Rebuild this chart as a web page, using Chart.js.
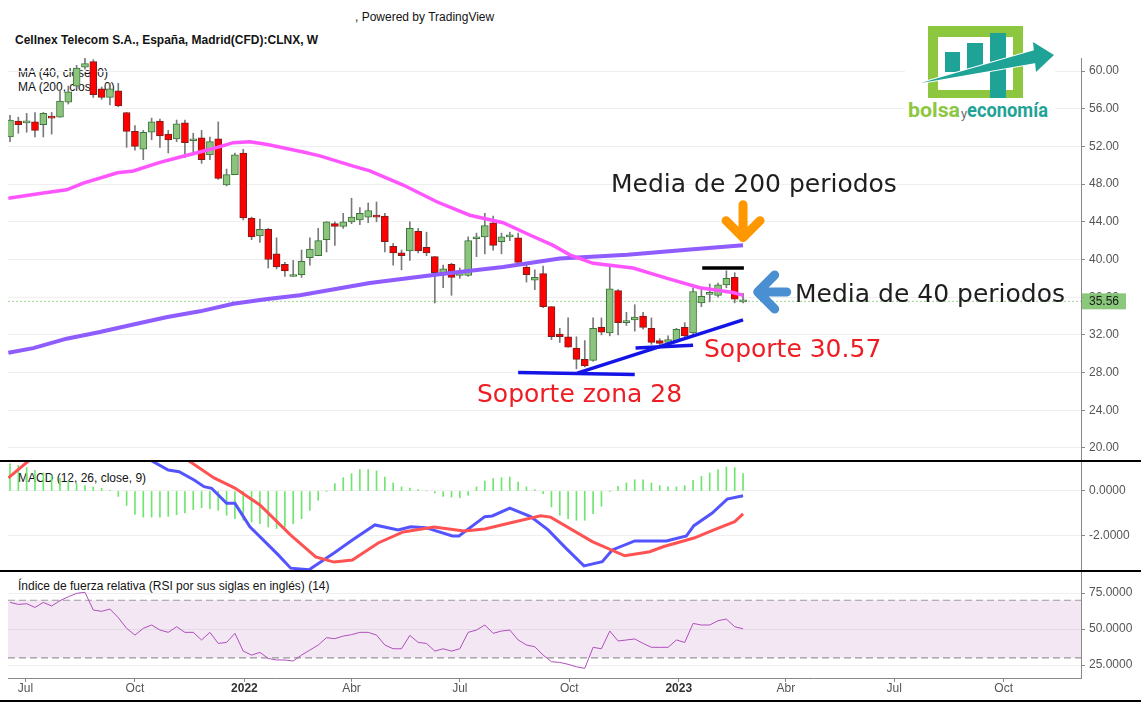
<!DOCTYPE html>
<html lang="es">
<head>
<meta charset="utf-8">
<title>Cellnex Telecom CLNX semanal</title>
<script src="https://cdn.jsdelivr.net/npm/chart.js@4/dist/chart.umd.min.js"></script>
<style>
body { margin: 0; background: #fff; }
#wrap { position: relative; width: 1147px; height: 706px; overflow: hidden; font-family: "Liberation Sans", Arial, sans-serif; font-size: 12px; color: #131313; }
#wrap canvas { position: absolute; left: 0; }
.lbl { position: absolute; white-space: nowrap; line-height: 14px; }
.sep { position: absolute; left: 0; width: 1141px; height: 2px; background: #000; }
#logo { position: absolute; left: 900px; top: 18px; }
</style>
</head>
<body>
<div id="wrap">
  <div class="lbl" style="left:355px;top:10px">, Powered by TradingView</div>
  <div class="lbl" style="left:15px;top:33px;font-weight:bold">Cellnex Telecom S.A., España, Madrid(CFD):CLNX, W</div>
  <div class="lbl" style="left:18px;top:66px">MA (40, close, 0)</div>
  <div class="lbl" style="left:18px;top:80px">MA (200, close, 0)</div>
  <div class="lbl" style="left:18px;top:471px">MACD (12, 26, close, 9)</div>
  <div class="lbl" style="left:18px;top:579px">Índice de fuerza relativa (RSI por sus siglas en inglés) (14)</div>

  <canvas id="price" width="1147" height="461" style="top:0"></canvas>
  <canvas id="macd" width="1147" height="110" style="top:461px"></canvas>
  <canvas id="rsi" width="1147" height="135" style="top:571px"></canvas>

  <div class="sep" style="top:460px"></div>
  <div class="sep" style="top:570px"></div>
  <div class="sep" style="top:700px"></div>

  <svg id="logo" width="160" height="106" viewBox="900 18 160 106">
    <rect x="905" y="20" width="150" height="102" fill="#fff"/>
    <path d="M928 26 H1023 V98 H928 Z M938 37 V90 H1013 V37 Z" fill="#8dc63f" fill-rule="evenodd"/>
    <rect x="945" y="52" width="15" height="20" fill="#1fa397"/>
    <rect x="967" y="43" width="16" height="29" fill="#1fa397"/>
    <rect x="990" y="33" width="16" height="65" fill="#1fa397"/>
    <path d="M921 83 L1035 50 L1036 63 Z" fill="#1fa397" stroke="#fff" stroke-width="2"/>
    <path d="M921 83 L1035 50 L1036 63 Z" fill="#1fa397"/>
    <polygon points="1033,42 1054,55 1036,72" fill="#1fa397"/>
    <text x="908" y="117" font-family="Roboto" font-weight="bold" font-size="20" fill="#8dc63f" textLength="52" lengthAdjust="spacingAndGlyphs">bolsa</text>
    <text x="961" y="118" font-family="Roboto" font-size="13" fill="#6d6d6d">y</text>
    <text x="967" y="117" font-family="Roboto" font-weight="bold" font-size="20" fill="#1fa397" textLength="81" lengthAdjust="spacingAndGlyphs">economía</text>
  </svg>
</div>

<script>
Chart.defaults.font.family = '"Liberation Sans", Arial, sans-serif';
Chart.defaults.font.size = 12;
Chart.defaults.color = '#555';

// weekly bars, first bar = week of 18 Jun 2021
const firstWeek = Date.UTC(2021, 5, 18);
const WEEK = 7 * 24 * 3600 * 1000;

const opens = [53.0,54.7,54.5,54.6,54.3,55.2,55.1,56.7,58.4,60.4, 61.0,58.1,57.2,57.9,55.6,53.6,51.7,53.5,54.7,53.3,
  52.8,54.5,52.6,52.9,51.1,52.8,47.9,49.0,51.3,44.4, 42.5,43.2,40.6,39.5,38.2,38.4,40.2,40.4,42.1,43.8,
  43.5,44.0,44.2,44.5,44.6,44.6,41.4,40.7,40.9,43.0, 41.3,40.3,38.6,39.5,38.3,38.3,42.2,42.4,43.9,41.9,
  42.4,42.3,39.2,37.8,38.5,35.0,32.1,31.8,30.6,29.4, 29.3,32.8,32.2,36.7,33.3,33.6,34.0,32.7,31.4,31.2,
  31.4,32.8,32.2,35.4,36.3,36.2,37.3,38.1,35.5];
const highs = [55.3,55.1,55.5,55.6,55.6,55.6,58.0,58.4,60.6,61.4, 61.2,58.3,58.7,58.7,55.6,54.2,53.7,55.0,54.9,53.7,
  54.8,54.8,53.4,53.7,53.0,54.6,49.6,51.3,51.7,44.5, 44.3,43.3,42.3,39.7,39.9,41.0,42.3,43.3,44.0,44.0,
  44.9,46.5,45.5,46.0,46.1,44.9,41.7,41.0,44.0,43.3, 42.9,40.3,39.4,39.6,39.1,42.4,42.8,44.9,44.6,42.8,
  42.9,42.8,39.7,38.9,39.3,35.0,32.7,33.8,31.8,31.4, 33.8,33.8,39.4,36.8,34.4,35.2,34.4,33.8,31.6,31.9,
  32.7,33.3,37.0,36.8,37.4,37.5,38.8,38.6,36.4];
const lows = [52.5,53.4,53.5,53.0,53.0,53.3,55.1,56.5,58.2,60.2, 57.2,57.0,56.4,56.2,51.9,51.6,50.6,52.7,51.9,51.3,
  52.5,50.8,51.1,50.2,50.6,48.5,47.8,49.0,44.2,42.1, 41.8,39.1,39.0,38.2,38.2,38.1,39.4,40.4,40.8,41.5,
  43.3,43.8,43.7,43.9,44.0,40.8,39.4,38.9,39.9,40.7, 40.4,35.4,37.0,36.2,38.0,38.2,40.3,40.6,41.0,40.6,
  42.0,39.6,37.6,36.8,34.9,31.5,31.2,30.7,28.4,28.6, 29.2,32.0,31.9,32.0,33.0,32.4,32.6,31.0,30.9,31.0,
  31.2,31.7,32.0,35.0,35.5,36.0,37.0,35.4,35.4];
const closes = [54.8,54.3,54.6,53.7,55.5,55.0,56.8,57.8,60.3,60.8, 57.5,57.2,58.1,56.3,53.6,52.0,53.5,54.6,53.1,52.7,
  54.4,52.4,52.7,50.6,52.5,48.6,49.0,51.1,44.4,42.4, 43.2,40.0,39.2,38.8,38.3,39.8,41.1,42.0,44.0,43.5,
  44.0,44.5,44.9,45.2,44.5,41.9,40.7,40.4,43.3,40.9, 40.7,38.6,39.0,38.1,38.7,42.0,42.3,43.6,41.5,42.4,
  42.5,39.7,38.4,38.1,35.0,31.8,31.8,30.7,29.4,28.7, 32.7,32.3,36.9,33.3,33.5,33.9,32.8,31.2,31.1,31.5,
  32.6,31.9,36.6,36.1,36.4,37.3,38.0,35.8,35.56];

// moving averages (week index, price)
const ma40Weeks = [-0.2,3.6,6.8,8.8,12.9,14.8,18.0,20.1,22.8,24.9,26.8,28.8,30.9,35.2,37.2,41.2,43.2,47.2,51.3,55.2,59.2,62.4,65.2,67.2,70.0,74.8,78.9,82.8,86.8,88.0];
const ma40 = [46.5,47.0,47.4,48.1,49.2,49.4,50.3,50.8,51.4,51.9,52.4,52.5,52.2,51.4,51.0,49.9,49.4,47.9,46.1,44.7,43.9,42.6,41.5,40.5,39.6,39.1,38.0,37.0,36.5,36.2];
const ma200Weeks = [-0.2,2.8,6.8,10.8,14.8,18.9,22.8,26.8,30.9,34.8,43.2,51.3,59.2,66.0,74.1,82.0,88.0];
const ma200 = [30.1,30.6,31.6,32.3,33.1,33.9,34.5,35.3,35.8,36.2,37.5,38.4,39.2,40.1,40.5,41.1,41.5];

// MACD
const macdWeeks = [-0.2,4,8,12,15,17.2,19.0,20.3,22.1,23.3,24.2,26.0,27.0,28.8,30.6,32.2,33.7,35.9,38.9,41.1,43.8,46.6,48.1,49.9,53.1,53.9,57.0,57.9,60.0,62.5,64.6,66.7,68.9,71.1,72.3,75.0,78.8,81.2,82.1,84.3,86.1,88.0];
const macd = [1.8,2.2,2.5,2.45,1.8,1.30,0.93,0.86,0.49,0.19,0.12,-0.55,-0.55,-1.59,-2.25,-2.84,-3.43,-3.5,-2.76,-2.18,-1.51,-1.73,-1.59,-1.63,-2.0,-2.0,-1.14,-1.11,-0.76,-1.14,-1.73,-2.53,-3.33,-3.14,-2.62,-2.22,-2.22,-2.0,-1.54,-0.98,-0.36,-0.21];
const signalWeeks = [-0.2,2.2,6,10,13,16,19,21.5,24.5,27.0,30.0,33.7,36.7,38.9,41.1,44.2,47.2,50.9,54.5,57.0,60.0,63.7,64.9,69.9,73.8,76.8,78.4,82.1,84.5,87.0,88.0];
const signal = [0.58,1.33,1.9,2.3,2.45,2.5,2.0,1.33,0.58,0.13,-0.62,-1.96,-2.93,-3.16,-3.07,-2.31,-1.82,-1.6,-1.78,-1.69,-1.42,-1.10,-1.16,-2.25,-2.88,-2.70,-2.48,-2.09,-1.73,-1.36,-1.02];
const hist = [1.21,1.14,1.04,0.92,0.80,0.68,0.56,0.44,0.33,0.24, 0.18,0.12,0.03,-0.24,-0.64,-1.04,-1.16,-1.16,-1.16,-1.13,
  -1.05,-0.98,-0.83,-0.74,-0.79,-0.86,-1.08,-1.23,-1.30,-1.38, -1.45,-1.60,-1.67,-1.60,-1.45,-1.23,-0.86,-0.41,-0.01,0.33,
  0.59,0.77,0.95,0.95,0.89,0.62,0.36,0.18,0.13,0.06, 0,-0.09,-0.24,-0.27,-0.30,-0.19,0.18,0.44,0.55,0.59,
  0.62,0.40,0.18,0.06,-0.12,-0.71,-1.08,-1.23,-1.30,-1.30, -1.01,-0.68,-0.01,0.21,0.36,0.50,0.50,0.36,0.24,0.18,
  0.18,0.24,0.47,0.65,0.80,0.95,1.07,1.04,0.77];

// RSI (14)
const rsi = [68.5,67.1,67.6,65.0,68.5,66.0,69.7,72.4,74.8,75.5, 63.2,62.3,63.9,57.9,50.5,45.8,50.5,52.8,49.3,47.7,
  51.6,47.7,47.7,42.4,47.7,40.0,40.7,47.0,34.7,31.9, 33.8,29.6,28.5,28.5,27.8,31.9,35.4,38.9,44.0,43.3,
  45.1,46.1,47.7,47.7,45.8,38.9,36.3,36.3,45.6,40.7, 40.0,34.7,36.3,34.7,36.3,47.7,49.3,52.8,47.0,48.6,
  49.3,42.4,38.9,37.7,31.9,27.3,26.8,25.5,23.8,22.7, 37.3,36.3,48.6,41.7,42.4,43.1,40.0,37.3,37.3,37.3,
  42.4,40.7,53.9,52.8,52.8,55.8,56.9,51.6,50.2];
const rsiBand = [70, 30];

// time axis labels
const tickMonths = [[2021,6],[2021,9],[2022,0],[2022,3],[2022,6],[2022,9],[2023,0],[2023,3],[2023,6],[2023,9]];
const tickLabels = ['Jul','Oct','2022','Abr','Jul','Oct','2023','Abr','Jul','Oct'];
const tickWeeks = tickMonths.map(m => (Date.UTC(m[0], m[1], 1) - firstWeek) / WEEK);

// drawn annotations (week index, price)
const noteTexts = ['Media de 200 periodos', 'Media de 40 periodos', 'Soporte 30.57', 'Soporte zona 28'];
const noteWeeks = [72.15, 94.24, 83.31, 56.06];
const notePrices = [47.8, 36.15, 30.3, 25.6];
const noteColors = ['#1e1e1e', '#1e1e1e', '#ee1d23', '#ee1d23'];
const supportLines = [
  [[61.0, 28.0], [75.0, 27.8]],
  [[68.1, 27.95], [88.0, 33.6]],
  [[75.1, 30.6], [82.0, 30.9]]
];
const topLine = [[83.1, 39.1], [88.1, 39.1]];
const arrowWeeks = [88.0, 89.4];
const arrowPrices = [42.0, 36.55];
const arrowColors = ['#ff9800', '#4a8fd1'];
const arrowAngles = [0, Math.PI / 2];
const arrowLens = [36, 32];

const xMin = -0.24, xMax = 128.57;
const lastClose = closes[closes.length - 1];

function pts(xs, ys) { return xs.map((x, i) => ({ x: x, y: ys[i] })); }
function weekly(vals) { return vals.map((v, i) => ({ x: i, y: v })); }
function segment(s) { return s.map(p => ({ x: p[0], y: p[1] })); }

function yAxis(min, max, step, digits) {
  return {
    position: 'right', min: min, max: max,
    ticks: { stepSize: step, includeBounds: false, padding: 4, color: '#555', callback: v => v.toFixed(digits) },
    grid: { color: '#efefef', tickLength: 4, tickColor: '#888' },
    border: { color: '#888' },
    afterFit(s) { s.width = 66; s.paddingTop = 0; s.paddingBottom = 0; }
  };
}

function xAxis(show) {
  return {
    type: 'linear', min: xMin, max: xMax, offset: false, display: show,
    grid: { drawOnChartArea: false, offset: false, tickLength: 4, tickColor: '#888' },
    border: { color: '#888' },
    ticks: {
      autoSkip: false, maxRotation: 0, padding: -1,
      callback: (v, i) => tickLabels[i],
      color: c => /^\d{4}$/.test(tickLabels[c.index] || '') ? '#333' : '#555',
      font: c => ({ family: '"Liberation Sans", Arial, sans-serif', size: 12,
        weight: /^\d{4}$/.test(tickLabels[c.index] || '') ? 'bold' : 'normal' })
    },
    afterBuildTicks(s) { s.ticks = tickWeeks.map(v => ({ value: v })); },
    afterFit(s) { if (show) s.height = 28; s.paddingLeft = 0; s.paddingRight = 0; }
  };
}

function baseOptions(padTop) {
  return {
    responsive: false, animation: false, events: [],
    layout: { padding: { top: padTop, left: 8, right: 0, bottom: 0 } },
    plugins: { legend: { display: false }, tooltip: { enabled: false } }
  };
}

const notesPlugin = {
  id: 'notas',
  afterDatasetsDraw(chart) {
    const ctx = chart.ctx, xs = chart.scales.x, ys = chart.scales.y;
    ctx.save();
    ctx.font = '25px "DejaVu Sans"';
    ctx.textBaseline = 'middle';
    ctx.textAlign = 'left';
    noteTexts.forEach((t, i) => {
      ctx.fillStyle = noteColors[i];
      ctx.fillText(t, xs.getPixelForValue(noteWeeks[i]), ys.getPixelForValue(notePrices[i]));
    });
    arrowWeeks.forEach((w, i) => {
      ctx.save();
      ctx.translate(xs.getPixelForValue(w), ys.getPixelForValue(arrowPrices[i]));
      ctx.rotate(arrowAngles[i]);
      ctx.strokeStyle = arrowColors[i];
      ctx.lineWidth = 9;
      ctx.lineCap = 'round';
      ctx.lineJoin = 'round';
      ctx.beginPath();
      ctx.moveTo(0, -arrowLens[i]); ctx.lineTo(0, -4);
      ctx.moveTo(-17, -20); ctx.lineTo(0, -3); ctx.lineTo(17, -20);
      ctx.stroke();
      ctx.restore();
    });
    ctx.restore();
  },
  afterDraw(chart) {
    const ctx = chart.ctx, ys = chart.scales.y, right = chart.chartArea.right;
    const yp = ys.getPixelForValue(lastClose);
    ctx.save();
    ctx.fillStyle = 'rgba(128,196,112,0.92)';
    ctx.fillRect(right + 1, yp - 8, 44, 16);
    ctx.fillStyle = '#1a1a1a';
    ctx.font = '12px "Liberation Sans"';
    ctx.textBaseline = 'middle';
    ctx.fillText(lastClose.toFixed(2), right + 8, yp);
    ctx.restore();
  }
};

const upFill = '#8cc47e', upLine = '#3b763b', downFill = '#ff0000', downLine = '#7a1f1f';
const isUp = i => closes[i] >= opens[i];

new Chart(document.getElementById('price'), {
  type: 'bar',
  data: {
    datasets: [
      ...supportLines.map(s => ({ type: 'line', data: segment(s), borderColor: '#1414e6', borderWidth: 3.5, pointRadius: 0, order: 0 })),
      { type: 'line', data: segment(topLine), borderColor: '#000', borderWidth: 3.5, pointRadius: 0, order: 0 },
      { type: 'line', label: 'MA 40', data: pts(ma40Weeks, ma40), borderColor: '#ff55ff', borderWidth: 3.5, pointRadius: 0, order: 1 },
      { type: 'line', label: 'MA 200', data: pts(ma200Weeks, ma200), borderColor: '#8e5cff', borderWidth: 4, pointRadius: 0, order: 2 },
      { type: 'bar', label: 'cuerpo', data: closes.map((c, i) => ({ x: i, y: [opens[i], c] })),
        backgroundColor: c => isUp(c.dataIndex) ? upFill : downFill,
        borderColor: c => isUp(c.dataIndex) ? upLine : downLine,
        borderWidth: 1, borderSkipped: false, barThickness: 7, minBarLength: 2, grouped: false, order: 3 },
      { type: 'bar', label: 'mecha', data: highs.map((h, i) => ({ x: i, y: [lows[i], h] })),
        backgroundColor: '#7a7a7a', barThickness: 1, grouped: false, order: 4 },
      { type: 'line', label: 'último', data: [{ x: xMin, y: lastClose }, { x: xMax, y: lastClose }],
        borderColor: '#9fd293', borderDash: [2, 2], borderWidth: 1, pointRadius: 0, order: 5 }
    ]
  },
  options: Object.assign(baseOptions(58), {
    scales: { x: xAxis(false), y: yAxis(18.62, 61.38, 4, 2) }
  }),
  plugins: [notesPlugin]
});

new Chart(document.getElementById('macd'), {
  type: 'bar',
  data: {
    datasets: [
      { type: 'line', label: 'Señal', data: pts(signalWeeks, signal), borderColor: '#ff5252', borderWidth: 3, pointRadius: 0, order: 1 },
      { type: 'line', label: 'MACD', data: pts(macdWeeks, macd), borderColor: '#5454ff', borderWidth: 3, pointRadius: 0, order: 2 },
      { type: 'bar', label: 'Histograma', data: weekly(hist), backgroundColor: '#6fe56f', barThickness: 1, grouped: false, order: 3 }
    ]
  },
  options: Object.assign(baseOptions(0), {
    scales: { x: xAxis(false), y: yAxis(-3.556, 1.333, 2, 4) }
  })
});

new Chart(document.getElementById('rsi'), {
  type: 'line',
  data: {
    datasets: [
      { label: 'sobrecompra', data: [{ x: xMin, y: rsiBand[0] }, { x: xMax, y: rsiBand[0] }], borderColor: '#9a9a9a',
        borderDash: [7, 4], borderWidth: 1.2, pointRadius: 0, fill: '+1', backgroundColor: 'rgba(150,60,160,0.12)', order: 2 },
      { label: 'sobreventa', data: [{ x: xMin, y: rsiBand[1] }, { x: xMax, y: rsiBand[1] }], borderColor: '#9a9a9a',
        borderDash: [7, 4], borderWidth: 1.2, pointRadius: 0, fill: false, order: 3 },
      { label: 'RSI', data: weekly(rsi), borderColor: '#b04fbc', borderWidth: 1, pointRadius: 0, fill: false, order: 0 }
    ]
  },
  options: Object.assign(baseOptions(0), {
    scales: { x: xAxis(true), y: yAxis(16, 90.3, 25, 4) }
  })
});
</script>
</body>
</html>
